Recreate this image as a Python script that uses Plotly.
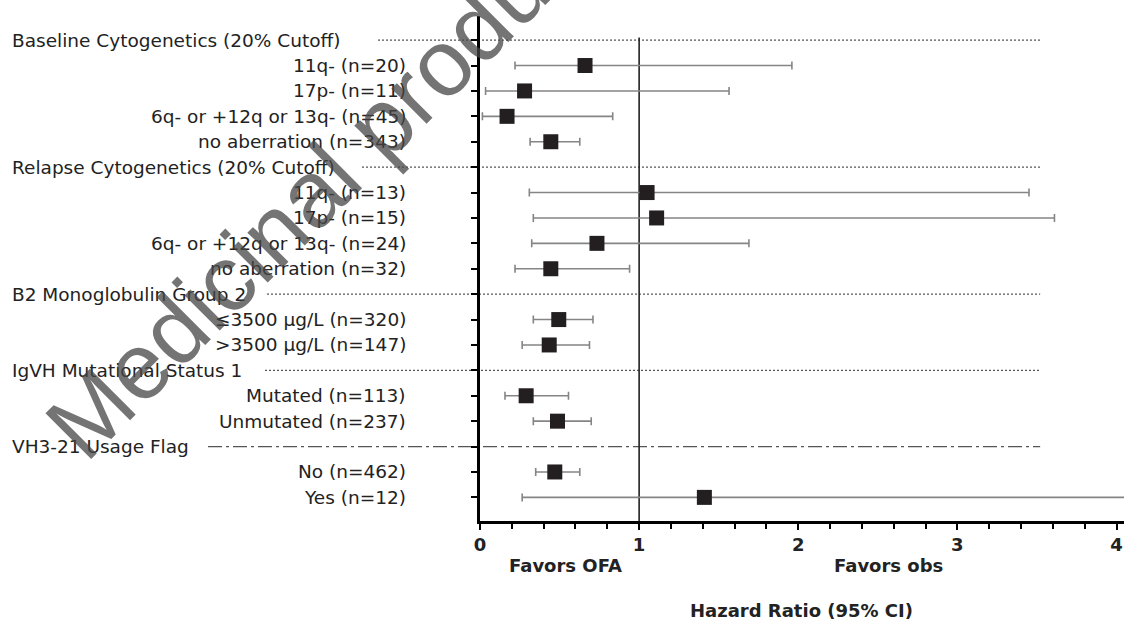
import plotly.graph_objects as go

# ---------------- data ----------------
row_labels = [
    "Baseline Cytogenetics (20% Cutoff)",
    "11q- (n=20)",
    "17p- (n=11)",
    "6q- or +12q or 13q- (n=45)",
    "no aberration (n=343)",
    "Relapse Cytogenetics (20% Cutoff)",
    "11q- (n=13)",
    "17p- (n=15)",
    "6q- or +12q or 13q- (n=24)",
    "no aberration (n=32)",
    "B2 Monoglobulin Group 2",
    "≤3500 µg/L (n=320)",
    ">3500 µg/L (n=147)",
    "IgVH Mutational Status 1",
    "Mutated (n=113)",
    "Unmutated (n=237)",
    "VH3-21 Usage Flag",
    "No (n=462)",
    "Yes (n=12)",
]
header_rows = [0, 5, 10, 13, 16]
header_line_start_px = [378, 362, 267, 265, 208]
header_line_dash = ["2px,2px", "2px,2px", "2px,2px", "2px,2px", "14px,4px,3px,4px"]

hazard_ratio = [None, 0.66, 0.28, 0.17, 0.445,
                None, 1.05, 1.11, 0.735, 0.445,
                None, 0.495, 0.435,
                None, 0.29, 0.487,
                None, 0.47, 1.41]
ci_lower = [None, 0.22, 0.035, 0.015, 0.315,
            None, 0.31, 0.335, 0.325, 0.22,
            None, 0.335, 0.265,
            None, 0.157, 0.335,
            None, 0.35, 0.265]
ci_upper = [None, 1.96, 1.565, 0.834, 0.627,
            None, 3.45, 3.61, 1.69, 0.94,
            None, 0.71, 0.688,
            None, 0.556, 0.699,
            None, 0.627, 4.6]

x_ticks = [0, 1, 2, 3, 4]
x_max = 4.047

# ---------------- layout constants ----------------
W, H = 1124, 623
L, R, T, B = 480, 0, 16, 102
plot_w = W - L - R
plot_h = H - T - B

label_font = dict(family="DejaVu Sans", size=18.5, color="#222222")
bold_font = dict(family="DejaVu Sans", size=18, color="#222222", weight="bold")

idx = [i for i, v in enumerate(hazard_ratio) if v is not None]
xs = [hazard_ratio[i] for i in idx]
ys = [i for i in idx]
err_plus = [ci_upper[i] - hazard_ratio[i] for i in idx]
err_minus = [hazard_ratio[i] - ci_lower[i] for i in idx]

fig = go.Figure()
fig.add_trace(go.Scatter(
    x=xs, y=ys, mode="markers",
    marker=dict(symbol="square", size=15, color="#231f20"),
    error_x=dict(type="data", symmetric=False, array=err_plus, arrayminus=err_minus,
                 color="#858585", thickness=1.6, width=4),
    showlegend=False, hoverinfo="skip",
))

shapes = []
# reference line at HR = 1
shapes.append(dict(type="line", xref="x", yref="y", x0=1, x1=1, y0=-0.1, y1=19,
                   line=dict(color="#222", width=1.6), layer="below"))
# header lines
for r, spx, dash in zip(header_rows, header_line_start_px, header_line_dash):
    shapes.append(dict(type="line", xref="paper", yref="y",
                       x0=(spx - L) / plot_w, x1=3.52 / x_max, y0=r, y1=r,
                       line=dict(color="#555", width=1.2, dash=dash), layer="below"))

annotations = []
for i, lab in enumerate(row_labels):
    if i in header_rows:
        annotations.append(dict(text=lab, xref="paper", yref="y",
                                x=(10 - L) / plot_w, y=i, xanchor="left", yanchor="middle",
                                showarrow=False, font=label_font))
    else:
        annotations.append(dict(text=lab, xref="paper", yref="y",
                                x=(408 - L) / plot_w, y=i, xanchor="right", yanchor="middle",
                                showarrow=False, font=label_font))

annotations.append(dict(text="Favors OFA", xref="x", yref="paper", x=0.54,
                        y=(H - B - 565) / plot_h, xanchor="center", yanchor="middle",
                        showarrow=False, font=bold_font))
annotations.append(dict(text="Favors obs", xref="x", yref="paper", x=2.57,
                        y=(H - B - 565) / plot_h, xanchor="center", yanchor="middle",
                        showarrow=False, font=bold_font))
annotations.append(dict(text="Hazard Ratio (95% CI)", xref="x", yref="paper", x=2.02,
                        y=(H - B - 610) / plot_h, xanchor="center", yanchor="middle",
                        showarrow=False, font=bold_font))
# watermark
annotations.append(dict(text="Medicinal product no longer authorised",
                        xref="paper", yref="paper",
                        x=(636 - L) / plot_w, y=(H - B + 131) / plot_h,
                        xanchor="center", yanchor="middle", textangle=-45,
                        showarrow=False,
                        font=dict(family="Liberation Sans", size=94, color="rgba(70,70,70,0.75)")))

fig.update_layout(
    width=W, height=H,
    margin=dict(l=L, r=R, t=T, b=B, pad=0),
    paper_bgcolor="white", plot_bgcolor="white",
    shapes=shapes, annotations=annotations,
    xaxis=dict(range=[0, x_max], tickvals=x_ticks, ticktext=[str(v) for v in x_ticks],
               showgrid=False, zeroline=False, showline=True, linecolor="black", linewidth=2.6,
               ticks="outside", ticklen=6, tickwidth=2, tickcolor="black",
               tickfont=bold_font,
               minor=dict(dtick=0.2, tick0=0, ticks="outside", ticklen=5, tickwidth=2,
                          tickcolor="black", showgrid=False)),
    yaxis=dict(range=[18.93, -0.95], tickvals=list(range(len(row_labels))),
               showticklabels=False, showgrid=False, zeroline=False,
               showline=True, linecolor="black", linewidth=2.6,
               ticks="outside", ticklen=6, tickwidth=2, tickcolor="black"),
)

fig.write_html("out.html")
